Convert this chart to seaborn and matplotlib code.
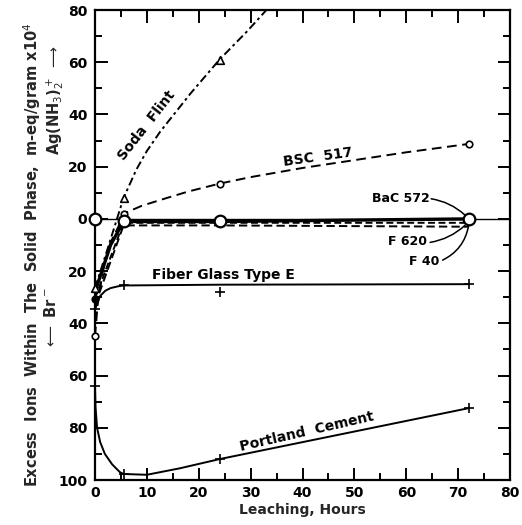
import matplotlib
matplotlib.use("Agg")
import matplotlib.pyplot as plt
import matplotlib.ticker as mticker
import numpy as np
import pandas as pd
import seaborn as sns

# ---------------- data ----------------
# Soda Flint (dash-dot, triangles)
soda_mark_x = [0, 5.5, 24]
soda_mark_y = [-26.5, 8, 61]
soda_curve_x = [0, 2.5, 5.5, 8, 10, 12.6, 18.4, 24, 29.4, 33.5]
soda_curve_y = [-26.5, -11, 8, 19, 26, 33.5, 48, 61, 72, 81]

# BSC 517 (dashed, small circles)
bsc_mark_x = [0, 5.5, 24, 72]
bsc_mark_y = [-45, 2, 13.5, 28.7]
bsc_curve_x = [0, 0.5, 1.5, 3, 4.5, 5.5, 9, 13.5, 18, 24, 30, 40, 50, 60, 72]
bsc_curve_y = [-45, -33, -20, -9, -3, 2, 5, 7.8, 10.5, 13.5, 16, 19.5, 22.5, 25.5, 28.7]

# BaC 572 (solid, large circles)
bac_x = [0, 5.5, 24, 72]
bac_y = [0, -1, -1, 0]
bac_curve_x = [0, 1, 3, 5.5, 24, 72]
bac_curve_y = [-28, -22, -10, -1, -1, 0]

# F 620 (dashed)
f620_x = [0, 5.5, 24, 72]
f620_y = [-30.5, -1.5, -1.5, -1.5]

# F 40 (dashed)
f40_x = [0, 5.5, 24, 72]
f40_y = [-33, -2.5, -2.5, -3]

# Fiber Glass Type E (solid, plus)
fiber_mark_x = [0, 5.5, 24, 72]
fiber_mark_y = [-34.5, -25.5, -28, -25]
fiber_curve_x = [0, 0.5, 1, 2, 3, 4.5, 5.5, 24, 72]
fiber_curve_y = [-35, -31.5, -29.5, -27.5, -26.5, -25.8, -25.5, -25.2, -25]

# Portland Cement (solid, plus)
port_mark_x = [0, 5.5, 24, 72]
port_mark_y = [-64, -97.7, -92, -72.5]
port_curve_x = [0, 0.1, 0.4, 1, 1.9, 3.3, 4.8, 5.5, 10, 16.4, 24, 72]
port_curve_y = [-64, -72, -80, -85.5, -90, -94, -97, -97.7, -98, -95.5, -92, -72.5]

y_ticks = [80, 60, 40, 20, 0, -20, -40, -60, -80, -100]
x_ticks = [0, 10, 20, 30, 40, 50, 60, 70, 80]

# ---------------- style ----------------
sns.set_style("ticks")
plt.rcParams["font.family"] = ["DejaVu Sans"]
plt.rcParams["lines.scale_dashes"] = False

fig = plt.figure(figsize=(5.22, 5.25), dpi=100)
ax = fig.add_axes([95 / 522, 45 / 525, 415 / 522, 470 / 525])

K = "black"

def line(x, y, **kw):
    sns.lineplot(x=x, y=y, ax=ax, estimator=None, sort=False, color=K, **kw)

# reference zero line
ax.axhline(0, color=K, lw=1.0, zorder=1)

# curves
line(soda_curve_x, soda_curve_y, lw=1.4, dashes=(6, 2.5, 2, 2.5))
line(bsc_curve_x, bsc_curve_y, lw=1.4, dashes=(7, 4))
line(bac_curve_x, bac_curve_y, lw=2.4)
line(f620_x, f620_y, lw=1.4, dashes=(5, 2.5))
line(f40_x, f40_y, lw=1.4, dashes=(6, 3))
line(fiber_curve_x, fiber_curve_y, lw=1.4)
line(port_curve_x, port_curve_y, lw=1.4)

# markers
def marks(x, y, marker, s, filled=False, lw=1.2):
    sns.scatterplot(x=x, y=y, ax=ax, marker=marker, s=s,
                    facecolor=(K if filled else "white") if marker not in ("+",) else K,
                    edgecolor=K, linewidth=lw, zorder=5, clip_on=False)

marks(soda_mark_x, soda_mark_y, "^", 30)
marks(bsc_mark_x, bsc_mark_y, "o", 22)
marks(bac_x, bac_y, "o", 70, lw=1.6)
marks(f620_x[:1], f620_y[:1], "o", 22, filled=True)
marks(fiber_mark_x, fiber_mark_y, "+", 55, lw=1.2)
marks(port_mark_x, port_mark_y, "+", 55, lw=1.2)

# axes
ax.set_xlim(0, 80)
ax.set_ylim(-100, 80)
ax.set_xticks(x_ticks)
ax.set_yticks(y_ticks)
ax.xaxis.set_minor_locator(mticker.MultipleLocator(5))
ax.yaxis.set_minor_locator(mticker.MultipleLocator(10))
ax.yaxis.set_major_formatter(mticker.FuncFormatter(lambda v, p: f"{abs(int(round(v)))}"))
ax.tick_params(which="both", direction="in", top=True, right=True, width=1.4, colors=K)
ax.tick_params(which="major", length=9)
ax.tick_params(which="minor", length=5)
ax.tick_params(axis="y", which="major", pad=5.5)
ax.tick_params(axis="x", which="major", pad=4)
for lab in ax.get_xticklabels() + ax.get_yticklabels():
    lab.set_fontsize(10)
    lab.set_fontweight("bold")
for sp in ax.spines.values():
    sp.set_visible(True)
    sp.set_linewidth(1.6)
    sp.set_color(K)
ax.set_xlabel("")
ax.set_ylabel("")

tk = dict(color=K, fontweight="bold", ha="center", va="center")
ax.text(10.0, 35.6, "Soda  Flint", rotation=52, fontsize=10, **tk)
ax.text(42.9, 23.6, "BSC  517", rotation=8, fontsize=10, **tk)
ax.text(24.8, -21.5, "Fiber Glass Type E", fontsize=10, **tk)
ax.text(40.8, -81.5, "Portland  Cement", rotation=13, fontsize=10, **tk)
ax.text(59, 7.7, "BaC 572", fontsize=9, **tk)
ax.text(60.3, -8.8, "F 620", fontsize=9, **tk)
ax.text(63.4, -16.5, "F 40", fontsize=9, **tk)

lk = dict(arrowstyle="-", color=K, lw=1.1, shrinkA=0, shrinkB=0)
ax.annotate("", xy=(71.3, 1.5), xytext=(64.8, 7.7),
            arrowprops=dict(connectionstyle="arc3,rad=-0.15", **lk))
ax.annotate("", xy=(71.3, -2.5), xytext=(64.6, -9.0),
            arrowprops=dict(connectionstyle="arc3,rad=0.15", **lk))
ax.annotate("", xy=(72, -2.8), xytext=(67.0, -15.8),
            arrowprops=dict(connectionstyle="arc3,rad=0.25", **lk))

# axis titles
fig.text(32 / 522, 1 - 255 / 525,
         "Excess  Ions  Within  The  Solid  Phase,  m-eq/gram x10$^4$",
         rotation=90, ha="center", va="center", fontsize=10.5, fontweight="bold")
fig.text(55 / 522, 1 - 100 / 525, r"Ag(NH$_3$)$_2^+$ $\longrightarrow$",
         rotation=90, ha="center", va="center", fontsize=10.5, fontweight="bold")
fig.text(51 / 522, 1 - 318 / 525, r"$\longleftarrow$ Br$^-$",
         rotation=90, ha="center", va="center", fontsize=10.5, fontweight="bold")
fig.text(302 / 522, 1 - 510 / 525, "Leaching, Hours",
         ha="center", va="center", fontsize=10, fontweight="bold")

fig.savefig("out.png", dpi=100)
